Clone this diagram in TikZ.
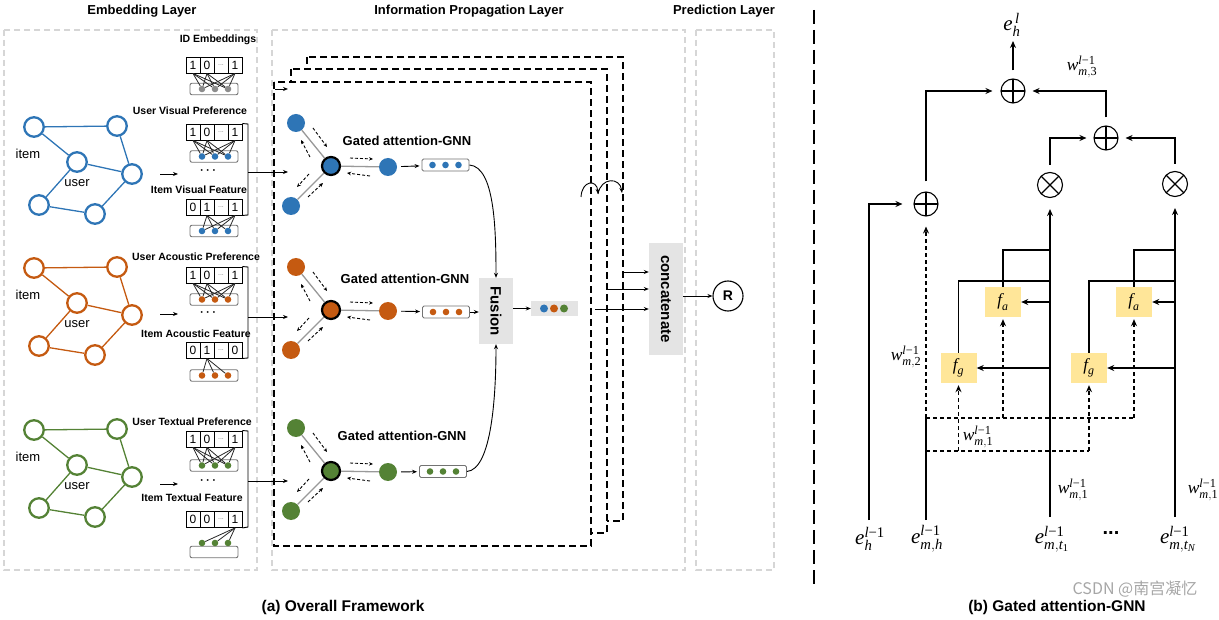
\documentclass[tikz,border=0pt]{standalone}
\usepackage{fontspec}
\usepackage{amsmath}
\setmainfont{Liberation Sans}
\newfontfamily\tnr{Liberation Serif}
\newfontfamily\cjk{Noto Sans CJK SC}
\usetikzlibrary{arrows.meta,calc}
\definecolor{cblue}{HTML}{2E75B6}
\definecolor{corange}{HTML}{C55A11}
\definecolor{cgreen}{HTML}{548235}
\definecolor{cgray}{HTML}{8C8C8C}
\definecolor{fyel}{HTML}{FFE699}
\definecolor{lgray}{HTML}{E4E4E4}
\definecolor{laygray}{HTML}{D6D6D6}
\newcommand{\tv}[1]{\text{\tnr\itshape #1}}
\newcommand{\tu}[1]{\text{\tnr #1}}
\newcommand{\fs}[1]{\fontsize{#1}{#1}\selectfont}
% embedding vector: prefix, vec y, c1, c2, c4, colour, dot y, box y, sources
\newcommand{\embvec}[9]{%
  \node[cell] (#1c1) at (193,#2) {#3};
  \node[cell] (#1c2) at (207,#2) {#4};
  \node[cell,text=black!50] (#1c3) at (221,#2) {\fs{7}...};
  \node[cell] (#1c4) at (235,#2) {#5};
  \node[dotbox] (#1box) at (214,#8) {};
  \node[vdot,fill=#6] (#1d1) at (202,#7) {};
  \node[vdot,fill=#6] (#1d2) at (215,#7) {};
  \node[vdot,fill=#6] (#1d3) at (228,#7) {};
  \foreach \s in {#9}{
    \draw[vline] (#1c\s.south) -- (#1d1);
    \draw[vline] (#1c\s.south) -- (#1d2);
    \draw[vline] (#1c\s.south) -- (#1d3);
  }
}
% user-item graph: prefix, colour, y of first node
\newcommand{\graphmod}[3]{%
  \node[gn,draw=#2] (#1n1) at (34,#3) {};
  \node[gn,draw=#2] (#1n2) at (117,{#3-1}) {};
  \node[gn,draw=#2] (#1n3) at (77,{#3+35}) {};
  \node[gn,draw=#2] (#1n4) at (132,{#3+47}) {};
  \node[gn,draw=#2] (#1n5) at (39,{#3+78}) {};
  \node[gn,draw=#2] (#1n6) at (95,{#3+87}) {};
  \draw[ge,draw=#2] (#1n1)--(#1n2) (#1n1)--(#1n3) (#1n2)--(#1n4) (#1n3)--(#1n4)
        (#1n3)--(#1n5) (#1n5)--(#1n6) (#1n6)--(#1n4);
  \node[font=\fs{13}] (#1item) at (28,{#3+27}) {item};
  \node[font=\fs{13}] (#1user) at (77,{#3+56}) {user};
}
% gated attention GNN: prefix, centre y, colour, label x, label y, vec x, vec y
\newcommand{\gnnmod}[7]{%
  \node[cnode,fill=#3] (#1c) at (331,#2) {};
  \node[snode,fill=#3] (#1a) at (296,{#2-43}) {};
  \node[snode,fill=#3] (#1b) at (291,{#2+40}) {};
  \node[snode,fill=#3] (#1o) at (388,{#2+1}) {};
  \draw[gedge] (#1c) -- (#1a) (#1c) -- (#1b) (#1c) -- (#1o);
  \draw[darr] ($(#1c)+(-18,-38)$) -- ($(#1c)+(-4,-19)$);
  \draw[darr] ($(#1c)+(-21,-9)$) -- ($(#1c)+(-30,-26)$);
  \draw[darr] ($(#1c)+(-22,8)$) -- ($(#1c)+(-34,21)$);
  \draw[darr] ($(#1c)+(-23,31)$) -- ($(#1c)+(-8,17)$);
  \draw[darr] ($(#1c)+(19,-8)$) -- ($(#1c)+(42,-7)$);
  \draw[darr] ($(#1c)+(39,10)$) -- ($(#1c)+(16,7)$);
  \node[font=\bfseries\fs{13}] (#1lab) at (#4,#5) {Gated attention-GNN};
  \node[gvec] (#1vec) at (#6,#7) {};
  \node[vdot,fill=#3] (#1v1) at ($(#1vec)+(-13,0)$) {};
  \node[vdot,fill=#3] (#1v2) at (#1vec) {};
  \node[vdot,fill=#3] (#1v3) at ($(#1vec)+(13,0)$) {};
  \draw[sarr,shorten <=4pt,shorten >=2pt] (#1o) -- (#1vec);
}
\begin{document}
\begin{tikzpicture}[x=1pt,y=-1pt,
  lay/.style={draw=laygray,line width=1.1pt,dash pattern=on 6pt off 4pt},
  stk/.style={draw=black,fill=white,line width=1.2pt,dash pattern=on 7pt off 4pt},
  gn/.style={circle,line width=2.3pt,fill=white,minimum size=19.5pt,inner sep=0},
  ge/.style={line width=1.3pt},
  cell/.style={draw,line width=0.9pt,minimum width=14pt,minimum height=16pt,inner sep=0,font=\fs{12}},
  dotbox/.style={draw=black!55,rounded corners=2pt,line width=0.9pt,minimum width=48pt,minimum height=11.5pt,inner sep=0},
  vdot/.style={circle,inner sep=0,minimum size=6.6pt},
  vline/.style={line width=0.8pt,draw=black!85},
  snode/.style={circle,inner sep=0,minimum size=18pt},
  cnode/.style={circle,inner sep=0,minimum size=18pt,draw=black,line width=2.2pt},
  gedge/.style={draw=black!40,line width=1.3pt},
  darr/.style={line width=0.9pt,dash pattern=on 3pt off 2pt,-{Stealth[length=4pt,width=3.5pt]}},
  sarr/.style={line width=0.9pt,-{Stealth[length=5pt,width=4pt]}},
  gvec/.style={draw=black!55,rounded corners=1.5pt,line width=0.9pt,minimum width=47pt,minimum height=12pt,inner sep=0},
  ttl/.style={font=\bfseries\fs{13}},
  lbl/.style={font=\bfseries\fs{10.5}},
  oplus/.style={circle,draw,line width=1.1pt,minimum size=24pt,inner sep=0,
    path picture={\draw[line width=1.1pt] (path picture bounding box.north)--(path picture bounding box.south)
      (path picture bounding box.west)--(path picture bounding box.east);}},
  otimes/.style={circle,draw,line width=1.1pt,minimum size=25pt,inner sep=0,
    path picture={\draw[line width=1.1pt] (path picture bounding box.north west)--(path picture bounding box.south east)
      (path picture bounding box.north east)--(path picture bounding box.south west);}},
  arr/.style={line width=1.1pt,-{Stealth[length=7pt,width=6pt]}},
  rl/.style={line width=1.1pt},
  dsh/.style={line width=1.1pt,dash pattern=on 4pt off 3pt},
  fb/.style={fill=fyel,minimum width=36pt,minimum height=30pt,inner sep=0,font=\fs{17}},
  mlab/.style={font=\fs{21}},
  wlab/.style={font=\fs{17.5}}]
\useasboundingbox (0,0) rectangle (1219,620);

% ---------- titles ----------
\node[ttl] (t1) at (142,11) {Embedding Layer};
\node[ttl] (t2) at (469,11) {Information Propagation Layer};
\node[ttl] (t3) at (724,11) {Prediction Layer};
\node[font=\bfseries\fs{15.5}] (capa) at (343,607) {(a) Overall Framework};
\node[font=\bfseries\fs{15.5}] (capb) at (1057,607) {(b) Gated attention-GNN};

% ---------- layer boxes ----------
\draw[lay] (4,30) rectangle (257,570);
\draw[lay] (272,30) rectangle (685,570);
\draw[lay] (696,30) rectangle (774,570);
\draw[line width=2.2pt,dash pattern=on 14pt off 6pt] (814,10) -- (814,586);

% ---------- embedding layer ----------
\graphmod{gb}{cblue}{127}
\graphmod{go}{corange}{268}
\graphmod{gg}{cgreen}{430}

\node[lbl] (lid) at (218,40) {ID Embeddings};
\embvec{id}{65}{1}{0}{1}{cgray}{89}{89}{1,2,4}
\node[lbl] (luv) at (190,111) {User Visual Preference};
\embvec{uv}{132}{1}{0}{1}{cblue}{156.5}{156.5}{1,2,4}
\node[font=\bfseries\fs{12}] (dv) at (209,171) {$\boldsymbol{\cdots}$};
\node[lbl] (liv) at (199,190) {Item Visual Feature};
\embvec{iv}{207}{0}{1}{1}{cblue}{231}{231}{2,4}

\node[lbl] (lua) at (196,257) {User Acoustic Preference};
\embvec{ua}{275}{1}{0}{1}{corange}{299.5}{299.5}{1,2,4}
\node[font=\bfseries\fs{12}] (da) at (209,313) {$\boldsymbol{\cdots}$};
\node[lbl] (lia) at (196,334) {Item Acoustic Feature};
\embvec{ia}{350}{0}{1}{0}{corange}{375.5}{375.5}{2}

\node[lbl] (lut) at (192,422) {User Textual Preference};
\embvec{ut}{439}{1}{0}{1}{cgreen}{465.5}{465.5}{1,2,4}
\node[font=\bfseries\fs{12}] (dt) at (209,481) {$\boldsymbol{\cdots}$};
\node[lbl] (lit) at (192,498) {Item Textual Feature};
\embvec{it}{519.5}{0}{0}{1}{cgreen}{543}{552}{4}

% graph -> vectors arrows
\coordinate (ga1) at (160,174); \coordinate (ga1e) at (178,174);
\coordinate (ga2) at (160,314); \coordinate (ga2e) at (178,314);
\coordinate (ga3) at (160,484); \coordinate (ga3e) at (178,484);
\draw[sarr] (ga1) -- (ga1e);
\draw[sarr] (ga2) -- (ga2e);
\draw[sarr] (ga3) -- (ga3e);

% brackets
\draw[line width=0.9pt] (uvc4.north east) -- (248,124) -- (248,215) -- (ivc4.south east);
\draw[line width=0.9pt] (uac4.north east) -- (248,267) -- (248,358) -- (iac4.south east);
\draw[line width=0.9pt] (utc4.north east) -- (248,431) -- (248,527) -- (itc4.south east);
\coordinate (bv) at (248,172); \coordinate (bve) at (288,172);
\coordinate (ba) at (248,317); \coordinate (bae) at (288,317);
\coordinate (bt) at (248,481); \coordinate (bte) at (288,481);

% ---------- propagation layer ----------
\draw[stk] (307,57) rectangle (623,521);
\draw[stk] (291,69) rectangle (607,533);
\draw[stk] (274,82) rectangle (591,546);

\draw[sarr] (bv) -- (bve);
\draw[sarr] (ba) -- (bae);
\draw[sarr] (bt) -- (bte);
\coordinate (idin) at (275,89); \coordinate (idine) at (288,89);
\draw[sarr] (idin) -- (idine);

\gnnmod{bl}{166}{cblue}{407}{141}{445.5}{165}
\gnnmod{or}{310}{corange}{405}{279}{446}{312}
\gnnmod{gr}{471}{cgreen}{402}{436}{443}{471.5}

\node[fill=lgray,minimum width=34pt,minimum height=66pt,inner sep=0] (fus) at (496,311) {};
\node[rotate=-90,font=\bfseries\fs{15}] (fust) at (fus) {Fusion};
\draw[sarr] (blvec.east) .. controls +(25,2) and +(0,-50) .. (fus.north);
\draw[sarr] (grvec.east) .. controls +(25,-2) and +(0,50) .. (fus.south);
\draw[sarr] (orvec.east) -- (fus.west |- orvec);

\node[fill=lgray,minimum width=47pt,minimum height=15pt,inner sep=0] (fv) at (554.5,308.5) {};
\node[vdot,fill=cblue,minimum size=8pt] (fv1) at (544,308.5) {};
\node[vdot,fill=corange,minimum size=8pt] (fv2) at (554,308.5) {};
\node[vdot,fill=cgreen,minimum size=8pt] (fv3) at (564,308.5) {};
\draw[sarr] (fus.east |- fv) -- (fv.west);

% recurrence arcs
\coordinate (ra0) at (581,197); \coordinate (ra1) at (598,194); \coordinate (ra2) at (622,193);
\draw[sarr] (ra0) .. controls (582,180) and (597,179) .. (ra1);
\draw[sarr] (ra1) .. controls (601,177) and (620,177) .. (ra2);

\node[fill=lgray,minimum width=34pt,minimum height=112pt,inner sep=0] (cat) at (666,299) {};
\node[rotate=-90,font=\bfseries\fs{15}] (catt) at (cat) {concatenate};
\coordinate (k3) at (623,272);
\coordinate (k2) at (607,289);
\coordinate (k1) at (595,309);
\draw[sarr] (k3) -- (k3 -| cat.west);
\draw[sarr] (k2) -- (k2 -| cat.west);
\draw[sarr] (k1) -- (k1 -| cat.west);

% ---------- prediction ----------
\node[circle,draw,line width=1.1pt,minimum size=30pt,inner sep=0,font=\bfseries\fs{14}] (R) at (728,296) {R};
\draw[sarr] (cat.east |- R) -- (R.west);

% ---------- (b) gated attention GNN ----------
\node[oplus] (p1) at (1013,91) {};
\node[oplus] (p2) at (1106,138) {};
\node[oplus] (p3) at (926,204) {};
\node[otimes] (x1) at (1050,185) {};
\node[otimes] (x2) at (1175,184) {};
\node[fb] (fa1) at (1003,302) {$\tv{f}_{\tv{a}}$};
\node[fb] (fg1) at (958.5,368) {$\tv{f}_{\tv{g}}$};
\node[fb] (fa2) at (1134,302) {$\tv{f}_{\tv{a}}$};
\node[fb] (fg2) at (1089,368) {$\tv{f}_{\tv{g}}$};

\coordinate (ehb) at (869,520);
\coordinate (emb) at (926,520);
\coordinate (dh1) at (926,418);
\coordinate (dh2) at (926,451);
\coordinate (t1b) at (1050,517);
\coordinate (t2b) at (1175,517);
\coordinate (r250) at (0,250);
\coordinate (r281) at (0,281);
\coordinate (eht) at (1013,41);

\draw[arr,shorten >=11pt] (ehb) |- (p3);
\draw[rl] (emb) -- (dh1);
\draw[arr,dsh,shorten >=10pt] (dh1) -- (p3);
\draw[dsh] (dh1) -- (fa2 |- dh1);
\draw[dsh] (dh2) -- (fg2 |- dh2);
\draw[arr,dsh,shorten >=2pt] (fg1 |- dh2) -- (fg1);
\draw[arr,dsh,shorten >=2pt] (fa1 |- dh1) -- (fa1);
\draw[arr,dsh,shorten >=2pt] (fg2 |- dh2) -- (fg2);
\draw[arr,dsh,shorten >=2pt] (fa2 |- dh1) -- (fa2);

\draw[arr,shorten >=11pt] (t1b) -- (x1);
\draw[rl] (fa1) |- (t1b |- r250);
\draw[rl] (fg1) |- (t1b |- r281);
\draw[arr] (t1b |- fa1) -- (fa1);
\draw[arr] (t1b |- fg1) -- (fg1);
\draw[arr,shorten >=11pt] (t2b) -- (x2);
\draw[rl] (fa2) |- (t2b |- r250);
\draw[rl] (fg2) |- (t2b |- r281);
\draw[arr] (t2b |- fa2) -- (fa2);
\draw[arr] (t2b |- fg2) -- (fg2);

\draw[arr,shorten <=10pt,shorten >=8pt] (p3) |- (p1);
\draw[arr,shorten <=8pt,shorten >=7pt] (p2) |- (p1);
\draw[arr,shorten <=7pt,shorten >=7pt] (x1) |- (p2);
\draw[arr,shorten <=7pt,shorten >=7pt] (x2) |- (p2);
\draw[arr,shorten <=8pt] (p1) -- (eht);

\node[mlab] (eh) at (1012,25) {$\tv{e}^{\,\tv{l}}_{\tv{h}}$};
\node[wlab] (w3) at (1082,67) {$\tv{w}^{\tv{l}\tu{−1}}_{\tv{m},\tu{3}}$};
\node[wlab] (w2) at (906,357) {$\tv{w}^{\tv{l}\tu{−1}}_{\tv{m},\tu{2}}$};
\node[wlab] (w1a) at (978,437) {$\tv{w}^{\tv{l}\tu{−1}}_{\tv{m},\tu{1}}$};
\node[wlab] (w1b) at (1073,490) {$\tv{w}^{\tv{l}\tu{−1}}_{\tv{m},\tu{1}}$};
\node[wlab] (w1c) at (1203,490) {$\tv{w}^{\tv{l}\tu{−1}}_{\tv{m},\tu{1}}$};
\node[mlab] (eh1) at (870,539) {$\tv{e}^{\tv{l}\tu{−1}}_{\tv{h}}$};
\node[mlab] (emh) at (927,539) {$\tv{e}^{\tv{l}\tu{−1}}_{\tv{m},\tv{h}}$};
\node[mlab] (emt1) at (1052,539) {$\tv{e}^{\tv{l}\tu{−1}}_{\tv{m},\tv{t}_{\tu{1}}}$};
\node[font=\bfseries\fs{20}] (dots) at (1111,533) {...};
\node[mlab] (emtn) at (1178,539) {$\tv{e}^{\tv{l}\tu{−1}}_{\tv{m},\tv{t}_{\tv{N}}}$};

\node[text=black!35,font=\cjk\fs{16}] (wm) at (1135,589) {CSDN @南宫凝忆};
\end{tikzpicture}
\end{document}
